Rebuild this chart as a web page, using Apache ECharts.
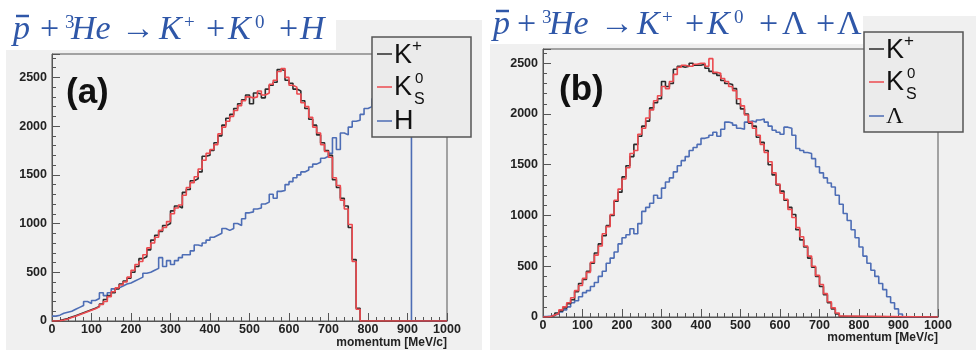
<!DOCTYPE html>
<html>
<head>
<meta charset="utf-8">
<script src="https://cdn.jsdelivr.net/npm/echarts@6/dist/echarts.min.js"></script>
<style>
  html, body { margin: 0; padding: 0; background: #fff; }
  #chart { width: 980px; height: 356px; }
</style>
</head>
<body>
<div id="chart"></div>
<script>
// histogram bins are 10 MeV/c wide, values start at 0 MeV/c
const binWidth = 10;
const xRange = [0, 1000];

// panel (a): pbar + 3He -> K+ + K0 + H
const kPlusA = [0, 5, 15, 25, 40, 55, 70, 85, 100, 115, 130, 150, 175, 220, 260, 290, 330, 380, 410, 440,
  500, 560, 640, 660, 730, 830, 880, 920, 980, 1000, 1130, 1180, 1160, 1320, 1350, 1440, 1460, 1530, 1690, 1700,
  1750, 1830, 1900, 2010, 2080, 2120, 2180, 2230, 2270, 2320, 2230, 2340, 2330, 2290, 2380, 2420, 2450, 2580, 2570, 2470,
  2440, 2380, 2360, 2260, 2180, 2070, 2010, 1910, 1830, 1750, 1700, 1450, 1370, 1260, 1180, 960, 630, 130];
const kZeroA = [0, 3, 10, 20, 35, 50, 65, 80, 95, 110, 125, 145, 170, 200, 250, 300, 340, 370, 400, 450,
  520, 580, 610, 680, 750, 800, 860, 930, 960, 1020, 1100, 1160, 1190, 1290, 1370, 1420, 1480, 1560, 1650, 1720,
  1760, 1810, 1920, 1990, 2050, 2100, 2160, 2210, 2260, 2300, 2290, 2300, 2360, 2320, 2340, 2430, 2470, 2560, 2590, 2500,
  2420, 2400, 2330, 2240, 2200, 2090, 1990, 1930, 1810, 1740, 1680, 1470, 1390, 1240, 1150, 990, 610, 120];
const hDibaryon = [50, 60, 80, 90, 100, 120, 140, 160, 200, 180, 210, 230, 290, 260, 290, 330, 340, 360, 380, 390,
  410, 430, 450, 490, 500, 520, 540, 650, 560, 620, 580, 620, 650, 680, 680, 720, 780, 770, 800, 830,
  860, 880, 900, 950, 930, 950, 1000, 980, 1050, 1110, 1120, 1150, 1160, 1200, 1220, 1300, 1260, 1330, 1340, 1400,
  1430, 1470, 1500, 1530, 1550, 1580, 1610, 1630, 1670, 1690, 1720, 1880, 1760, 1930, 1910, 1990, 2050, 2060, 2120, 2180,
  2200, 2280, 2320, 2370, 2400, 2430, 2480, 2510, 2540, 2570, 2600];

// panel (b): pbar + 3He -> K+ + K0 + Lambda + Lambda
const kPlusB = [0, 5, 15, 40, 60, 90, 130, 170, 250, 330, 370, 450, 530, 630, 720, 800, 900, 1000, 1140, 1230,
  1380, 1490, 1580, 1700, 1780, 1880, 1930, 2060, 2110, 2150, 2320, 2270, 2300, 2440, 2470, 2460, 2470, 2500, 2480, 2480,
  2490, 2450, 2420, 2400, 2380, 2330, 2300, 2290, 2250, 2100, 2050, 2000, 1910, 1880, 1770, 1720, 1640, 1500, 1400, 1300,
  1240, 1150, 1080, 1010, 860, 760, 690, 580, 490, 400, 300, 220, 140, 80, 30, 5];
const kZeroB = [0, 5, 20, 35, 70, 100, 140, 190, 260, 310, 380, 440, 540, 610, 700, 820, 890, 1010, 1150, 1260,
  1360, 1470, 1610, 1640, 1800, 1860, 1960, 2040, 2130, 2180, 2270, 2250, 2320, 2390, 2460, 2480, 2470, 2470, 2490, 2500,
  2500, 2470, 2545, 2410, 2400, 2350, 2320, 2270, 2230, 2150, 2080, 1990, 1920, 1860, 1790, 1700, 1620, 1530, 1420, 1310,
  1220, 1160, 1060, 980, 880, 790, 700, 600, 500, 410, 320, 230, 150, 90, 40, 10];
const lambdaB = [5, 10, 20, 30, 50, 70, 100, 140, 160, 200, 240, 260, 300, 340, 400, 450, 530, 580, 640, 720,
  780, 810, 870, 820, 920, 1040, 1080, 1120, 1200, 1170, 1270, 1330, 1370, 1430, 1490, 1540, 1580, 1640, 1670, 1700,
  1760, 1770, 1790, 1820, 1780, 1850, 1920, 1910, 1890, 1860, 1850, 1920, 1930, 1920, 1940, 1950, 1920, 1880, 1840, 1820,
  1800, 1870, 1860, 1790, 1660, 1640, 1620, 1610, 1560, 1480, 1420, 1370, 1320, 1280, 1200, 1110, 1020, 950, 860, 780,
  690, 600, 530, 460, 400, 330, 270, 200, 140, 80, 30];

const yTicks = [0, 500, 1000, 1500, 2000, 2500];

const black = '#2b2b2b';
const red = '#ec4a4f';
const blue = '#4d6db5';
const titleBlue = '#2f57a8';
const padGray = '#f0f0f0';

// left bin edges + closing edge so step:'end' draws a ROOT-like outline
function histPoints(values) {
  const pts = values.map((v, i) => [i * binWidth, v]);
  pts.push([values.length * binWidth, 0]);
  pts.push([xRange[1], 0]);
  return pts;
}

function histSeries(name, values, color, idx, z) {
  return {
    name, type: 'line', step: 'end', xAxisIndex: idx, yAxisIndex: idx,
    data: histPoints(values), showSymbol: false, symbol: 'none',
    lineStyle: { color, width: 1.6 }, z, animation: false
  };
}

function xAxisFor(idx, nameTop) {
  return {
    type: 'value', gridIndex: idx, min: xRange[0], max: xRange[1], interval: 100,
    name: 'momentum [MeV/c]', nameLocation: 'end', nameGap: 0, nameMoveOverlap: false,
    nameTextStyle: { align: 'right', verticalAlign: 'top', padding: [nameTop, 0, 0, 0],
      fontFamily: 'Liberation Sans', fontWeight: 'bold', fontSize: 12, color: '#222' },
    axisLine: { lineStyle: { color: '#555', width: 1 } },
    axisTick: { inside: true, length: 8, lineStyle: { color: '#555' } },
    minorTick: { show: true, splitNumber: 5, length: 4, lineStyle: { color: '#555' } },
    axisLabel: { margin: 2, fontFamily: 'Liberation Sans', fontWeight: 'bold', fontSize: 12.5, color: '#222',
      formatter: v => String(v) },
    splitLine: { show: false }
  };
}

function yAxisFor(idx, max) {
  return {
    type: 'value', gridIndex: idx, min: 0, max, interval: 500,
    axisLine: { show: true, lineStyle: { color: '#555', width: 1 } },
    axisTick: { show: true, inside: true, length: 8, lineStyle: { color: '#555' } },
    minorTick: { show: true, splitNumber: 5, length: 4, lineStyle: { color: '#555' } },
    axisLabel: { margin: 5, showMaxLabel: false, fontFamily: 'Liberation Sans', fontWeight: 'bold', fontSize: 12.5, color: '#222',
      formatter: v => (yTicks.indexOf(v) >= 0 ? String(v) : '') },
    splitLine: { show: false }
  };
}

// title pieces: [text, x, kind]  kind: i = italic, n = upright, s = superscript
function titleText(pieces, baseline) {
  return pieces.map(([t, x, kind]) => {
    const size = kind === 's' ? 19 : 34;
    const style = kind === 'i' ? 'italic ' : '';
    const y = kind === 's' ? baseline - 12 : baseline - 5;
    return { type: 'text', z: 50, style: { x, y, text: t, font: style + size + 'px Liberation Serif',
      fill: titleBlue, verticalAlign: 'middle' } };
  });
}

const titleA = [['p', 13, 'i'], ['+', 40, 'n'], ['3', 65, 's'], ['He', 71, 'i'], ['\u2192', 121, 'n'],
  ['K', 159, 'i'], ['+', 184, 's'], ['+', 206, 'n'], ['K', 228, 'i'], ['0', 255, 's'], ['+', 279, 'n'], ['H', 300, 'i']];
const titleB = [['p', 493, 'i'], ['+', 517, 'n'], ['3', 542, 's'], ['He', 549, 'i'], ['\u2192', 600, 'n'],
  ['K', 637, 'i'], ['+', 662, 's'], ['+', 685, 'n'], ['K', 707, 'i'], ['0', 734, 's'], ['+', 759, 'n'],
  ['\u039B', 782, 'n'], ['+', 816, 'n'], ['\u039B', 837, 'n']];

function legendBox(x, y, third) {
  const els = [{
    type: 'rect', z: 100, shape: { x, y, width: 99, height: 100 },
    style: { fill: '#ebebeb', stroke: '#555', lineWidth: 1.5 }
  }];
  const rows = [17, 50, 84];
  const colors = [black, red, blue];
  rows.forEach((dy, k) => {
    els.push({ type: 'line', z: 101, shape: { x1: x + 5, y1: y + dy, x2: x + 20, y2: y + dy },
      style: { stroke: colors[k], lineWidth: 1.5 } });
  });
  const sans = 'Liberation Sans';
  els.push({ type: 'text', z: 101, style: { x: x + 22, y: y + rows[0] + 2, text: 'K', font: '27px ' + sans, fill: '#111', verticalAlign: 'middle' } });
  els.push({ type: 'text', z: 101, style: { x: x + 40, y: y + rows[0] - 8, text: '+', font: '17px ' + sans, fill: '#111', verticalAlign: 'middle' } });
  els.push({ type: 'text', z: 101, style: { x: x + 22, y: y + rows[1] + 1, text: 'K', font: '27px ' + sans, fill: '#111', verticalAlign: 'middle' } });
  els.push({ type: 'text', z: 101, style: { x: x + 43, y: y + rows[1] - 8, text: '0', font: '15px ' + sans, fill: '#111', verticalAlign: 'middle' } });
  els.push({ type: 'text', z: 101, style: { x: x + 42, y: y + rows[1] + 13, text: 'S', font: '16px ' + sans, fill: '#111', verticalAlign: 'middle' } });
  els.push({ type: 'text', z: 101, style: { x: x + 22, y: y + rows[2] + 1, text: third,
    font: third === 'H' ? '27px ' + sans : '24px Liberation Serif', fill: '#111', verticalAlign: 'middle' } });
  return els;
}

const chart = echarts.init(document.getElementById('chart'), null, { renderer: 'canvas' });

const option = {
  backgroundColor: '#fff',
  animation: false,
  grid: [
    { left: 52, top: 54, right: 533, bottom: 35, outerBoundsMode: 'none', containLabel: false,
      show: true, backgroundColor: padGray, borderColor: '#555', borderWidth: 1 },
    { left: 543, top: 49, right: 42, bottom: 39, outerBoundsMode: 'none', containLabel: false,
      show: true, backgroundColor: padGray, borderColor: '#555', borderWidth: 1 }
  ],
  xAxis: [xAxisFor(0, 16), xAxisFor(1, 15)],
  yAxis: [yAxisFor(0, 2740), yAxisFor(1, 2640)],
  series: [
    histSeries('H', hDibaryon, blue, 0, 2),
    histSeries('K+', kPlusA, black, 0, 3),
    histSeries('K0S', kZeroA, red, 0, 4),
    histSeries('Lambda', lambdaB, blue, 1, 2),
    histSeries('K+', kPlusB, black, 1, 3),
    histSeries('K0S', kZeroB, red, 1, 4)
  ],
  graphic: [
    // pads
    { type: 'rect', z: -10, silent: true, shape: { x: 6, y: 20, width: 476, height: 330 }, style: { fill: padGray } },
    { type: 'rect', z: -10, silent: true, shape: { x: 490, y: 16, width: 486, height: 334 }, style: { fill: padGray } },
    // title backgrounds
    { type: 'rect', z: -5, silent: true, shape: { x: 6, y: 0, width: 330, height: 50 }, style: { fill: '#fff' } },
    { type: 'rect', z: -5, silent: true, shape: { x: 490, y: 0, width: 373, height: 44 }, style: { fill: '#fff' } },
    // titles with the antiproton bar
    ...titleText(titleA, 35),
    { type: 'line', z: 50, shape: { x1: 16, y1: 16, x2: 29, y2: 16 }, style: { stroke: titleBlue, lineWidth: 2.5 } },
    ...titleText(titleB, 30),
    { type: 'line', z: 50, shape: { x1: 496, y1: 11, x2: 509, y2: 11 }, style: { stroke: titleBlue, lineWidth: 2.5 } },
    // panel labels
    { type: 'text', z: 50, style: { x: 66, y: 93, text: '(a)', font: 'bold 35px Liberation Sans', fill: '#111', verticalAlign: 'middle' } },
    { type: 'text', z: 50, style: { x: 559, y: 90, text: '(b)', font: 'bold 35px Liberation Sans', fill: '#111', verticalAlign: 'middle' } },
    ...legendBox(372, 37, 'H'),
    ...legendBox(864, 32, '\u039B')
  ]
};

chart.setOption(option);
window.addEventListener('resize', () => chart.resize());
</script>
</body>
</html>
